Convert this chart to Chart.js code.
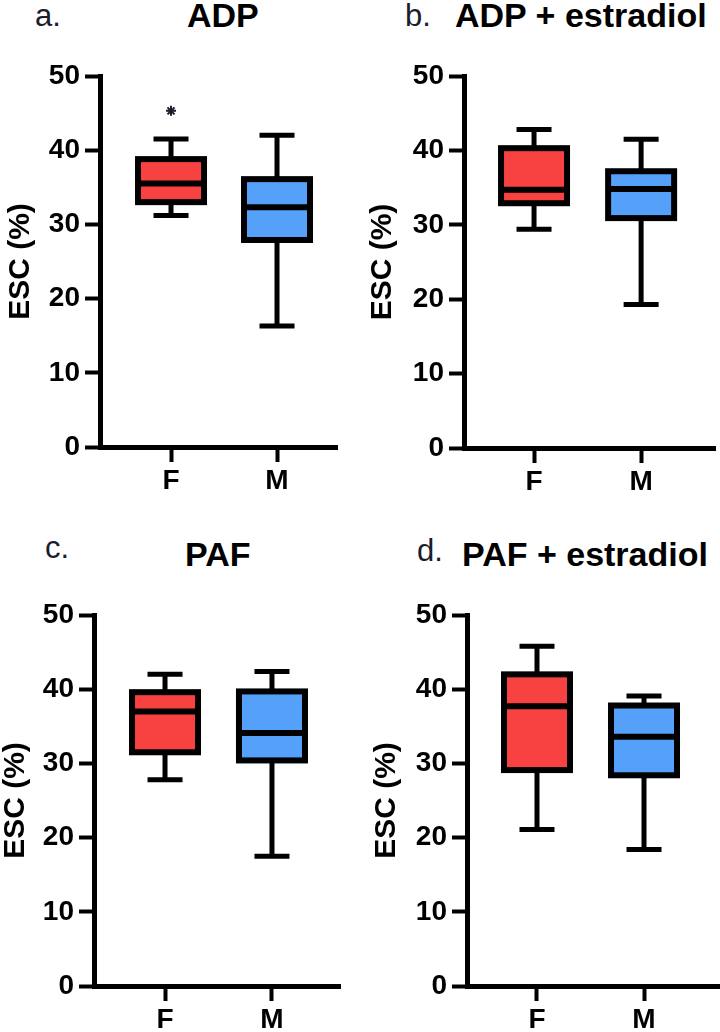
<!DOCTYPE html>
<html>
<head>
<meta charset="utf-8">
<script src="https://cdn.jsdelivr.net/npm/chart.js@4.4.1/dist/chart.umd.min.js"></script>
<style>
  body { margin: 0; background: #fff; }
  #wrap { position: relative; width: 720px; height: 1032px; overflow: hidden; font-family: "Liberation Sans", Arial, sans-serif; }
  canvas { position: absolute; }
  .lbl { position: absolute; font-size: 31px; line-height: 31px; color: #1b1d2b; white-space: nowrap; }
  .ttl { position: absolute; font-size: 34px; line-height: 34px; font-weight: bold; color: #000; white-space: nowrap; }
</style>
</head>
<body>
<div id="wrap">
  <span class="lbl" style="left:35px;top:0px">a.</span>
  <span class="ttl" style="left:187px;top:-2px">ADP</span>
  <span class="lbl" style="left:405px;top:0px">b.</span>
  <span class="ttl" style="left:455px;top:-2px">ADP + estradiol</span>
  <span class="lbl" style="left:45px;top:532px">c.</span>
  <span class="ttl" style="left:185px;top:537px">PAF</span>
  <span class="lbl" style="left:417px;top:535px">d.</span>
  <span class="ttl" style="left:462px;top:537px">PAF + estradiol</span>

  <canvas id="pa" width="360" height="516" style="left:0;top:0"></canvas>
  <canvas id="pb" width="360" height="516" style="left:360px;top:0"></canvas>
  <canvas id="pc" width="360" height="516" style="left:0;top:516px"></canvas>
  <canvas id="pd" width="360" height="516" style="left:360px;top:516px"></canvas>
</div>
<script>
// five-number summaries per group: [min, q1, median, q3, max]
const groups = ['F', 'M'];
const yTicks = [0, 10, 20, 30, 40, 50];

const adpF = [31.2, 33.0, 35.5, 38.8, 41.5];
const adpM = [16.3, 27.9, 32.3, 36.1, 42.0];
const adpStar = 45.3;   // * above F

const adpEstF = [29.4, 32.9, 34.7, 40.3, 42.8];
const adpEstM = [19.3, 30.9, 34.8, 37.2, 41.5];

const pafF = [27.8, 31.5, 37.0, 39.6, 42.0];
const pafM = [17.5, 30.4, 34.1, 39.7, 42.4];

const pafEstF = [21.1, 29.1, 37.7, 42.0, 45.8];
const pafEstM = [18.4, 28.4, 33.6, 37.8, 39.1];

const RED = '#f84141';
const BLUE = '#55a1f9';

Chart.defaults.font.family = '"Liberation Sans", Arial, sans-serif';
Chart.defaults.color = '#000';

function boxPlugin(stats) {
  return {
    id: 'boxes',
    afterDatasetsDraw(chart) {
      const { ctx } = chart;
      const x = chart.scales.x, y = chart.scales.y;
      const meta = chart.getDatasetMeta(0);
      ctx.save();
      ctx.strokeStyle = '#000';
      stats.forEach((s, i) => {
        const cx = x.getPixelForValue(i + 1);
        const w = meta.data[i].width;
        const [lo, q1, med, q3, hi] = s.map(v => y.getPixelForValue(v));
        const cap = 35;
        ctx.lineWidth = 5;
        ctx.beginPath();
        ctx.moveTo(cx, q3); ctx.lineTo(cx, hi);
        ctx.moveTo(cx, q1); ctx.lineTo(cx, lo);
        ctx.moveTo(cx - cap / 2, hi); ctx.lineTo(cx + cap / 2, hi);
        ctx.moveTo(cx - cap / 2, lo); ctx.lineTo(cx + cap / 2, lo);
        ctx.stroke();
        ctx.lineWidth = 6;
        ctx.strokeRect(cx - w / 2, q3, w, q1 - q3);
        ctx.beginPath();
        ctx.moveTo(cx - w / 2, med); ctx.lineTo(cx + w / 2, med);
        ctx.stroke();
      });
      ctx.restore();
    }
  };
}

function makePanel(id, stats, p, star) {
  const datasets = [{
    type: 'bar',
    data: stats.map((s, i) => ({ x: i + 1, y: [s[1], s[3]] })),
    backgroundColor: [RED, BLUE],
    borderWidth: 0,
    barThickness: 66,
    grouped: false
  }];
  if (star !== undefined) {
    datasets.push({
      type: 'scatter',
      data: [{ x: 1, y: star }],
      pointStyle: 'star',
      radius: 5,
      borderWidth: 2,
      borderColor: '#1b1d2b'
    });
  }
  return new Chart(document.getElementById(id), {
    type: 'bar',
    data: { datasets },
    options: {
      responsive: false,
      animation: false,
      devicePixelRatio: 1,
      layout: { padding: { top: p.top, right: 360 - p.right, left: 0, bottom: 0 } },
      plugins: { legend: { display: false }, tooltip: { enabled: false } },
      scales: {
        x: {
          type: 'linear',
          offset: false,
          min: p.xMin,
          max: p.xMax,
          afterBuildTicks: s => { s.ticks = groups.map((g, i) => ({ value: i + 1 })); },
          afterFit: s => { s.height = 516 - p.bottom; },
          ticks: {
            callback: v => groups[v - 1],
            font: { size: 28, weight: 'bold' },
            color: '#000',
            padding: 2,
            autoSkip: false,
            maxRotation: 0
          },
          grid: { offset: false, drawOnChartArea: false, tickLength: 15, tickWidth: 4, tickColor: '#000' },
          border: { width: 5, color: '#000' }
        },
        y: {
          min: 0,
          max: 50,
          afterBuildTicks: s => { s.ticks = yTicks.map(v => ({ value: v })); },
          afterFit: s => { s.width = p.axisX; },
          ticks: { font: { size: 28, weight: 'bold' }, color: '#000', padding: 5 },
          grid: { drawOnChartArea: false, tickLength: 15, tickWidth: 4, tickColor: '#000' },
          border: { width: 5, color: '#000' },
          title: {
            display: true,
            text: 'ESC (%)',
            color: '#000',
            font: { size: 30, weight: 'bold', lineHeight: 1 },
            padding: { top: p.titlePad, bottom: 0 }
          }
        }
      }
    },
    plugins: [boxPlugin(stats)]
  });
}

makePanel('pa', [adpF, adpM], { axisX: 100, top: 76, bottom: 447, right: 337, xMin: 0.33, xMax: 2.566, titlePad: 6 }, adpStar);
makePanel('pb', [adpEstF, adpEstM], { axisX: 104, top: 76, bottom: 448, right: 355, xMin: 0.346, xMax: 2.69, titlePad: 8 });
makePanel('pc', [pafF, pafM], { axisX: 94, top: 99, bottom: 470, right: 340, xMin: 0.336, xMax: 2.636, titlePad: 1 });
makePanel('pd', [pafEstF, pafEstM], { axisX: 107, top: 99, bottom: 470, right: 360, xMin: 0.346, xMax: 2.71, titlePad: 12 });
</script>
</body>
</html>
